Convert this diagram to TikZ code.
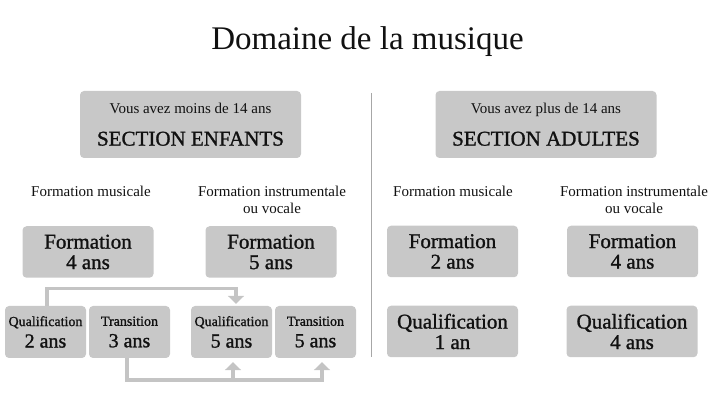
\documentclass[tikz,border=0pt]{standalone}
\usepackage{fontspec}
\setmainfont{Liberation Serif}
\newfontfamily\boxfont{Liberation Serif}[FakeBold=1.2]
\usetikzlibrary{arrows.meta}
\definecolor{boxgray}{HTML}{C8C8C8}
\definecolor{linegray}{HTML}{C4C4C4}
\definecolor{ink}{HTML}{111111}
\tikzset{
  grbox/.style={fill=boxgray, rounded corners=4pt, inner sep=0pt, align=center, text=ink},
  hdrbox/.style={grbox, minimum width=221pt, minimum height=67pt, font=\boxfont\fontsize{21}{32}\selectfont},
  bigbox/.style={grbox, minimum width=131pt, minimum height=51.5pt, font=\boxfont\fontsize{21}{20.5}\selectfont},
  smallbox/.style={grbox, minimum width=81pt, minimum height=52pt, font=\boxfont\fontsize{20}{21.5}\selectfont},
  lbl/.style={align=center, inner sep=0pt, text=ink, font=\fontsize{15}{17}\selectfont},
  conn/.style={draw=linegray, line width=3.2pt, -{Triangle[width=16pt,length=8pt]}},
}
\newcommand{\smallline}[1]{{\rmfamily\fontsize{15}{18}\selectfont #1}}
\newcommand{\tinyline}[1]{{\fontsize{14}{16}\selectfont #1}}
\begin{document}
\begin{tikzpicture}[x=1pt,y=-1pt]
\useasboundingbox (0,0) rectangle (723,419);
% title
\node[anchor=base, inner sep=0pt, text=ink, font=\fontsize{33}{36}\selectfont] (title) at (367.5,50) {Domaine de la musique};
% divider
\coordinate (dtop) at (371,93);
\coordinate (dbot) at (371,357);
\draw[draw=linegray!85!black, line width=0.8pt] (dtop) -- (dbot);
% headers
\node[hdrbox] (enf) at (190.5,124.5) {\smallline{Vous avez moins de 14 ans}\\SECTION ENFANTS};
\node[hdrbox] (adu) at (546,124.5) {\smallline{Vous avez plus de 14 ans}\\SECTION ADULTES};
% column labels
\node[lbl, anchor=base] (lmusE) at (91,197) {Formation musicale};
\node[lbl, anchor=base] (linsE) at (272,214) {Formation instrumentale\\ou vocale};
\node[lbl, anchor=base] (lmusA) at (453,197) {Formation musicale};
\node[lbl, anchor=base] (linsA) at (634,214) {Formation instrumentale\\ou vocale};
% formation boxes
\node[bigbox] (f4) at (88,252) {Formation\\4 ans};
\node[bigbox] (f5) at (271,252) {Formation\\5 ans};
\node[bigbox] (f2) at (452.5,251.5) {Formation\\2 ans};
\node[bigbox] (f4a) at (632.5,251.5) {Formation\\4 ans};
% adult qualification
\node[bigbox] (q1) at (452.5,331.5) {Qualification\\1 an};
\node[bigbox] (q4) at (632,331.5) {Qualification\\4 ans};
% small boxes
\node[smallbox] (qa) at (45.5,332) {\tinyline{Qualification}\\2 ans};
\node[smallbox] (ta) at (129.5,332) {\tinyline{Transition}\\3 ans};
\node[smallbox] (qb) at (231.5,332) {\tinyline{Qualification}\\5 ans};
\node[smallbox] (tb) at (315.5,332) {\tinyline{Transition}\\5 ans};
% connectors
\draw[conn] ([xshift=1.5pt]qa.north) -- ++(0,-17) -| ([xshift=4.5pt,yshift=2pt]qb.north);
\coordinate (j) at (233,380);
\draw[conn] ([xshift=-2.5pt]ta.south) |- (j) -| ([xshift=6.5pt,yshift=-4pt]tb.south);
\draw[conn] (j) -- ([xshift=1.5pt,yshift=-4pt]qb.south);
\end{tikzpicture}
\end{document}
